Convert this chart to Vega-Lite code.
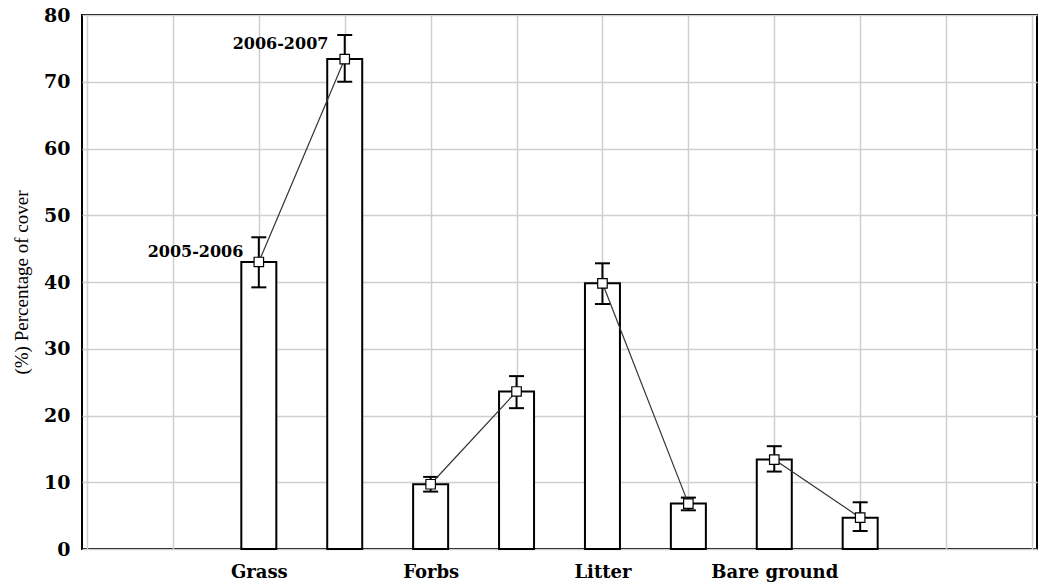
{
  "$schema": "https://vega.github.io/schema/vega-lite/v6.json",
  "width": 955,
  "height": 534,
  "autosize": {"type": "none"},
  "padding": {"left": 82, "top": 15, "right": 6, "bottom": 36},
  "background": "white",
  "config": {
    "view": {"stroke": "black", "strokeWidth": 2},
    "font": "Liberation Serif"
  },
  "datasets": {
    "cover": [
      {"category": "Grass", "period": "2005-2006", "pos": 2, "mean": 43.0, "lo": 39.2, "hi": 46.7},
      {"category": "Grass", "period": "2006-2007", "pos": 3, "mean": 73.4, "lo": 70.0, "hi": 77.0},
      {"category": "Forbs", "period": "2005-2006", "pos": 4, "mean": 9.7, "lo": 8.6, "hi": 10.8},
      {"category": "Forbs", "period": "2006-2007", "pos": 5, "mean": 23.6, "lo": 21.1, "hi": 25.9},
      {"category": "Litter", "period": "2005-2006", "pos": 6, "mean": 39.8, "lo": 36.7, "hi": 42.8},
      {"category": "Litter", "period": "2006-2007", "pos": 7, "mean": 6.8, "lo": 5.8, "hi": 7.7},
      {"category": "Bare ground", "period": "2005-2006", "pos": 8, "mean": 13.4, "lo": 11.6, "hi": 15.4},
      {"category": "Bare ground", "period": "2006-2007", "pos": 9, "mean": 4.7, "lo": 2.7, "hi": 7.0}
    ],
    "notes": [
      {"label": "2005-2006", "x": 1.82, "y": 44.5},
      {"label": "2006-2007", "x": 2.81, "y": 75.7}
    ]
  },
  "layer": [
    {
      "data": {"name": "cover"},
      "mark": {"type": "bar", "size": 35, "fill": "white", "stroke": "black", "strokeWidth": 2},
      "encoding": {
        "x": {
          "field": "pos", "type": "quantitative",
          "scale": {"domain": [0, 11], "nice": false, "zero": false},
          "axis": {
            "title": null,
            "values": [0, 1, 2, 3, 4, 5, 6, 7, 8, 9, 10, 11],
            "labelExpr": "datum.value == 2 ? 'Grass' : datum.value == 4 ? 'Forbs' : datum.value == 6 ? 'Litter' : datum.value == 8 ? 'Bare ground' : ''",
            "labelFont": "DejaVu Serif", "labelFontWeight": "bold", "labelFontSize": 18, "labelColor": "black",
            "labelPadding": 14,
            "domain": false,
            "ticks": false,
            "grid": true, "gridColor": "#cfcfcf", "gridWidth": 1.5
          }
        },
        "y": {
          "field": "mean", "type": "quantitative",
          "scale": {"domain": [0, 80], "nice": false},
          "axis": {
            "title": "(%) Percentage of cover",
            "titleFont": "Liberation Serif", "titleFontWeight": "normal", "titleFontSize": 19, "titleColor": "black",
            "titlePadding": 12,
            "values": [0, 10, 20, 30, 40, 50, 60, 70, 80],
            "labelFont": "DejaVu Serif", "labelFontWeight": "bold", "labelFontSize": 19, "labelColor": "black",
            "labelPadding": 12,
            "domain": false,
            "ticks": false,
            "grid": true, "gridColor": "#cfcfcf", "gridWidth": 1.5
          }
        }
      }
    },
    {
      "data": {"name": "cover"},
      "mark": {"type": "rule", "stroke": "black", "strokeWidth": 2},
      "encoding": {
        "x": {"field": "pos", "type": "quantitative"},
        "y": {"field": "lo", "type": "quantitative"},
        "y2": {"field": "hi"}
      }
    },
    {
      "data": {"name": "cover"},
      "mark": {"type": "tick", "orient": "horizontal", "size": 15, "thickness": 2, "color": "black", "opacity": 1},
      "encoding": {
        "x": {"field": "pos", "type": "quantitative"},
        "y": {"field": "hi", "type": "quantitative"}
      }
    },
    {
      "data": {"name": "cover"},
      "mark": {"type": "tick", "orient": "horizontal", "size": 15, "thickness": 2, "color": "black", "opacity": 1},
      "encoding": {
        "x": {"field": "pos", "type": "quantitative"},
        "y": {"field": "lo", "type": "quantitative"}
      }
    },
    {
      "data": {"name": "cover"},
      "mark": {"type": "line", "stroke": "#333333", "strokeWidth": 1.2},
      "encoding": {
        "x": {"field": "pos", "type": "quantitative"},
        "y": {"field": "mean", "type": "quantitative"},
        "detail": {"field": "category"}
      }
    },
    {
      "data": {"name": "cover"},
      "mark": {"type": "point", "shape": "square", "size": 90, "filled": true, "fill": "white", "stroke": "black", "strokeWidth": 1.2, "opacity": 1},
      "encoding": {
        "x": {"field": "pos", "type": "quantitative"},
        "y": {"field": "mean", "type": "quantitative"}
      }
    },
    {
      "data": {"name": "notes"},
      "mark": {"type": "text", "align": "right", "baseline": "middle", "font": "DejaVu Serif", "fontWeight": "bold", "fontSize": 16, "color": "black"},
      "encoding": {
        "x": {"field": "x", "type": "quantitative"},
        "y": {"field": "y", "type": "quantitative"},
        "text": {"field": "label"}
      }
    }
  ]
}
